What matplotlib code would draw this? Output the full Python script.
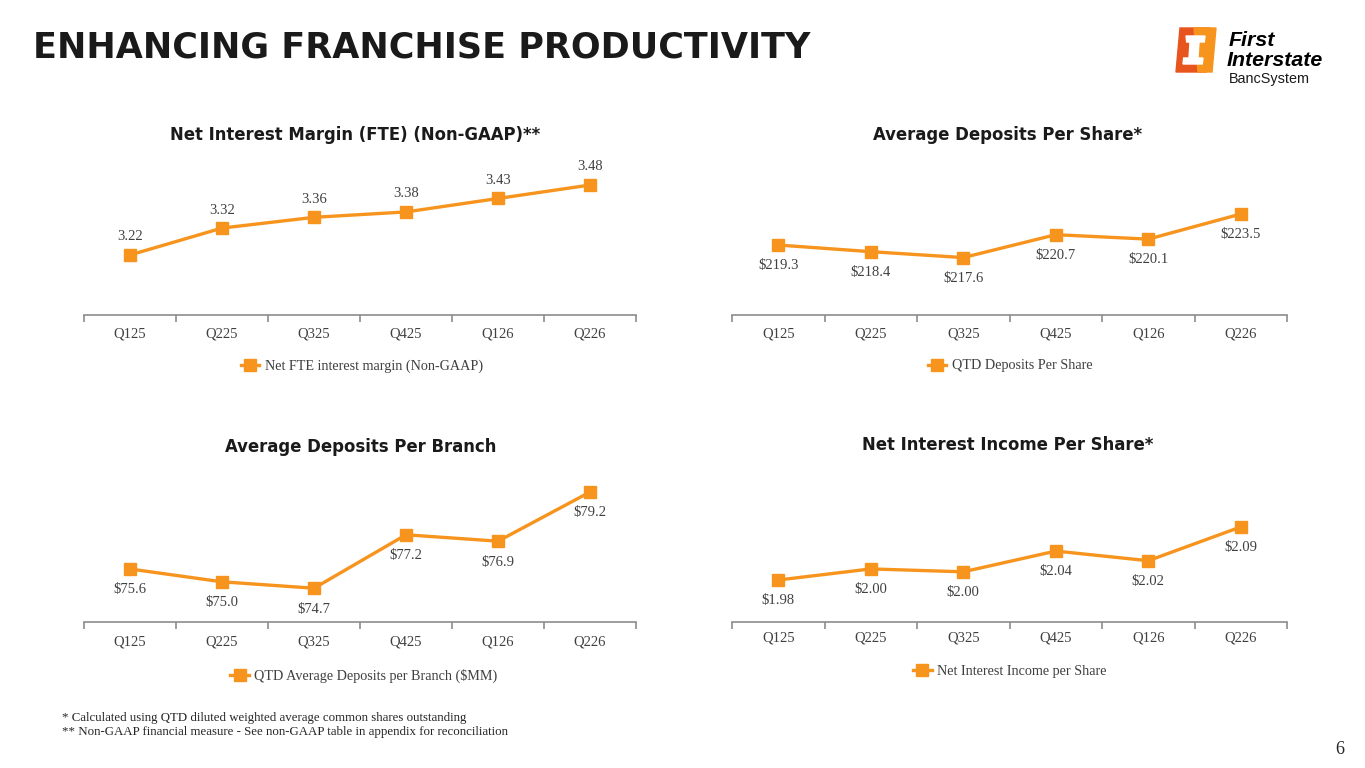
import numpy as np
import matplotlib
matplotlib.use('Agg')
import matplotlib.pyplot as plt
from matplotlib.patches import Polygon
from matplotlib.lines import Line2D

quarters = ['Q125', 'Q225', 'Q325', 'Q425', 'Q126', 'Q226']

nim = [3.22, 3.32, 3.36, 3.38, 3.43, 3.48]
deposits_per_share = [219.3, 218.4, 217.6, 220.7, 220.1, 223.5]
deposits_per_branch = [75.6, 75.0, 74.7, 77.2, 76.9, 79.2]
nii_per_share = [1.98, 2.003, 1.997, 2.04, 2.02, 2.09]

W, H = 1365, 768
ORANGE = '#F7941D'
TXT = '#404040'
SERIF = 'Liberation Serif'


def fx(px):
    return px / W


def fy(py):
    return 1 - py / H


def make_axes(fig, left, right, bottom, top):
    return fig.add_axes([fx(left), fy(bottom), fx(right - left), (bottom - top) / H])


def draw_chart(fig, ax, values, fmt, ylim, title, title_xy, legend_text, legend_xy,
               label_offset, tick_pad):
    x = np.arange(len(values))
    ax.plot(x, values, color=ORANGE, lw=2.4, marker='s', ms=8, mec=ORANGE, mfc=ORANGE,
            clip_on=False, zorder=3)
    for xi, v in zip(x, values):
        ax.annotate(fmt.format(v), (xi, v), xytext=(0, label_offset), textcoords='offset points',
                    ha='center', va='center', fontsize=10.5, family=SERIF, color=TXT)
    ax.set_xlim(-0.5, len(values) - 0.5)
    ax.set_ylim(*ylim)
    for s in ['top', 'right', 'left']:
        ax.spines[s].set_visible(False)
    ax.spines['bottom'].set_color('#8c8c8c')
    ax.spines['bottom'].set_linewidth(1.2)
    ax.set_yticks([])
    ax.set_xticks(np.arange(-0.5, len(values), 1.0))
    ax.set_xticklabels([])
    ax.tick_params(axis='x', which='major', length=5, width=1.2, color='#8c8c8c', direction='out')
    ax.set_xticks(x, minor=True)
    ax.set_xticklabels(quarters, minor=True, fontsize=10.5, family=SERIF, color=TXT)
    ax.tick_params(axis='x', which='minor', length=0, pad=tick_pad)
    ax.patch.set_alpha(0)

    fig.text(fx(title_xy[0]), fy(title_xy[1]), title, ha='center', va='center',
             fontsize=11.9, fontweight='bold', family='DejaVu Sans', color='#1a1a1a')
    handle = Line2D([], [], color=ORANGE, lw=2.4, marker='s', ms=8, mec=ORANGE, mfc=ORANGE)
    fig.legend([handle], [legend_text], loc='center',
               bbox_to_anchor=(fx(legend_xy[0]), fy(legend_xy[1])),
               frameon=False, prop={'family': SERIF, 'size': 10.2}, labelcolor=TXT,
               handlelength=1.3, handletextpad=0.4, borderaxespad=0)


fig = plt.figure(figsize=(W / 100, H / 100), dpi=100)

fig.text(fx(33), fy(47), 'ENHANCING FRANCHISE PRODUCTIVITY', ha='left', va='center',
         fontsize=25.2, fontweight='bold', family='DejaVu Sans', color='#1a1a1a')

ax1 = make_axes(fig, 84, 636, 315, 160)
draw_chart(fig, ax1, nim, '{:.2f}', (2.997, 3.573), 'Net Interest Margin (FTE) (Non-GAAP)**',
           (355, 135), 'Net FTE interest margin (Non-GAAP)', (362, 366), 13, 9)

ax2 = make_axes(fig, 732, 1287, 315, 160)
draw_chart(fig, ax2, deposits_per_share, '${:.1f}', (209.82, 230.82), 'Average Deposits Per Share*',
           (1008, 135), 'QTD Deposits Per Share', (1010, 366), -15, 9)

ax3 = make_axes(fig, 84, 636, 622, 470)
draw_chart(fig, ax3, deposits_per_branch, '${:.1f}', (73.12, 80.23), 'Average Deposits Per Branch',
           (361, 447), 'QTD Average Deposits per Branch ($MM)', (364, 676), -15, 10)

ax4 = make_axes(fig, 732, 1287, 622, 470)
draw_chart(fig, ax4, nii_per_share, '${:.2f}', (1.893, 2.208), 'Net Interest Income Per Share*',
           (1008, 445), 'Net Interest Income per Share', (1010, 671), -15, 7)

# footnotes and page number
fig.text(fx(62), fy(718), '* Calculated using QTD diluted weighted average common shares outstanding',
         ha='left', va='center', fontsize=9.3, family=SERIF, color='#262626')
fig.text(fx(62), fy(732), '** Non-GAAP financial measure - See non-GAAP table in appendix for reconciliation',
         ha='left', va='center', fontsize=9.3, family=SERIF, color='#262626')
fig.text(fx(1340), fy(749), '6', ha='center', va='center', fontsize=13, family=SERIF, color='#262626')

# logo
logo = fig.add_axes([fx(1173), fy(73), fx(48), 46 / H])
logo.set_xlim(0, 48)
logo.set_ylim(0, 46)
logo.axis('off')
logo.add_patch(Polygon([[7, 45], [37, 45], [33, 1], [3, 1]], closed=True, color='#E8541E'))
logo.add_patch(Polygon([[21, 45], [43, 45], [39, 1], [25, 1]], closed=True, color='#F7941D'))
logo.add_patch(Polygon([[13, 37], [32, 37], [31.3, 31], [26, 31], [25, 15], [30, 15],
                        [29.3, 9], [10, 9], [10.7, 15], [16, 15], [17, 31], [13.7, 31]],
                       closed=True, color='white'))
fig.text(fx(1229), fy(41), 'First', ha='left', va='center', fontsize=15.4, fontweight='bold',
         style='italic', family='Liberation Sans', color='black')
fig.text(fx(1227), fy(60), 'Interstate', ha='left', va='center', fontsize=15.4, fontweight='bold',
         style='italic', family='Liberation Sans', color='black')
fig.text(fx(1229), fy(79), 'BancSystem', ha='left', va='center', fontsize=10.4,
         family='Liberation Sans', color='#1a1a1a')

fig.savefig('out.png', dpi=100)
